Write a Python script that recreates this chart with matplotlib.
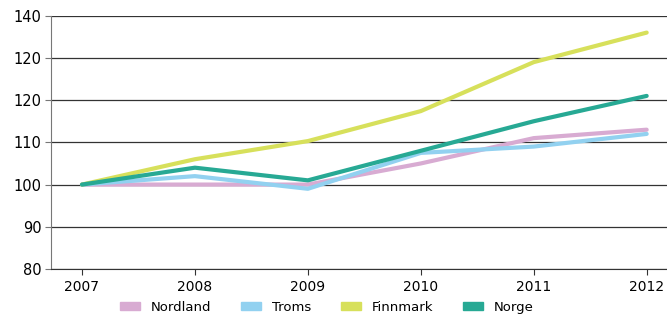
import matplotlib.pyplot as plt
import matplotlib.patches as mpatches

years = [2007, 2008, 2009, 2010, 2011, 2012]
nordland = [100, 100, 100, 105, 111, 113]
troms = [100, 102, 99, 107.5, 109, 112]
finnmark = [100, 106, 110.3, 117.4, 129, 136]
norge = [100, 104, 101, 108, 115, 121]

series = ['Nordland', 'Troms', 'Finnmark', 'Norge']
colors = ['#d8abd2', '#92d1f0', '#d7e05b', '#27a994']
ytick_vals = [80, 90, 100, 110, 120, 130, 140]
ytick_labels = ['80', '90', '100', '110', '120', '120', '140']

fig = plt.figure(figsize=(6.67, 3.14), dpi=100)
ax = fig.add_axes([0.0765, 0.1433, 0.9235, 0.8067])

for vals, name, c in zip([nordland, troms, finnmark, norge], series, colors):
    ax.plot(years, vals, color=c, lw=3, solid_capstyle='round', zorder=3)

ax.set_ylim(80, 140)
ax.set_xlim(2006.726, 2012.18)
ax.set_yticks(ytick_vals)
ax.set_yticklabels(ytick_labels, fontsize=10.5)
ax.set_xticks(years)
ax.set_xticklabels([str(y) for y in years], fontsize=10)
ax.yaxis.grid(True, color='#333333', lw=0.9)
ax.set_axisbelow(True)
for s in ['top', 'right']:
    ax.spines[s].set_visible(False)
ax.spines['left'].set_color('#777777')
ax.spines['bottom'].set_color('#333333')
ax.tick_params(axis='y', length=4, color='#777777', pad=3)
ax.tick_params(axis='x', length=4, color='#333333', pad=4)

handles = [mpatches.Patch(color=c, label=n) for n, c in zip(series, colors)]
fig.legend(handles=handles, loc='center', bbox_to_anchor=(0.49, 0.022), ncol=4,
           frameon=False, fontsize=9.5, handlelength=1.5, handleheight=0.6,
           columnspacing=2.3, handletextpad=0.8)

fig.savefig('out.png', dpi=100)
